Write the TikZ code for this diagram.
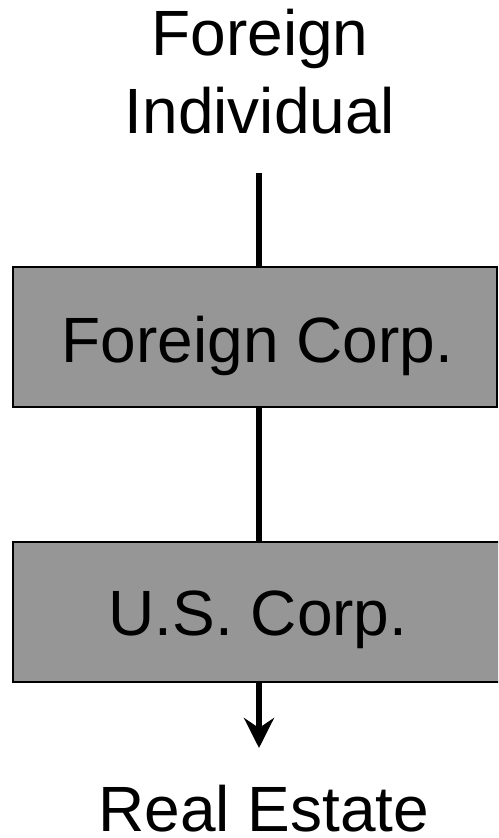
\documentclass[tikz,border=0pt]{standalone}
\usepackage{fontspec}
\setmainfont{Liberation Sans}
\usetikzlibrary{arrows.meta}
\definecolor{boxgray}{RGB}{150,150,150}
\begin{document}
\begin{tikzpicture}[x=1pt,y=-1pt,
  entity/.style={draw=black,line width=2.5pt,fill=boxgray,rectangle,inner sep=0pt},
  label/.style={font=\fontsize{64}{78}\selectfont,inner sep=0pt,anchor=base},
  link/.style={line width=6pt}]
  \useasboundingbox (0,0) rectangle (498,838);
  \clip (0,0) rectangle (498,838);
  % owner at the top
  \node[label] (indiv1) at (260,55) {Foreign};
  \node[label] (indiv2) at (260,133) {Individual};
  \coordinate (stem) at (259,173);
  % ownership chain
  \node[entity,minimum width=484pt,minimum height=140pt] (fcorp) at (255,337) {};
  \node[label] (fcorptext) at (257.5,362) {Foreign Corp.};
  \node[entity,minimum width=490pt,minimum height=140pt] (uscorp) at (258,612) {};
  \node[label] (uscorptext) at (258,635) {U.S. Corp.};
  % asset at the bottom
  \coordinate (tip) at (259,748);
  \node[label] (estate) at (264,831) {Real Estate};
  % connectors
  \draw[link] (stem) -- (stem |- fcorp.north);
  \draw[link] (stem |- fcorp.south) -- (stem |- uscorp.north);
  \draw[link,-{Stealth[length=30pt,width=30pt,inset=10pt]}] (stem |- uscorp.south) -- (tip);
\end{tikzpicture}
\end{document}
